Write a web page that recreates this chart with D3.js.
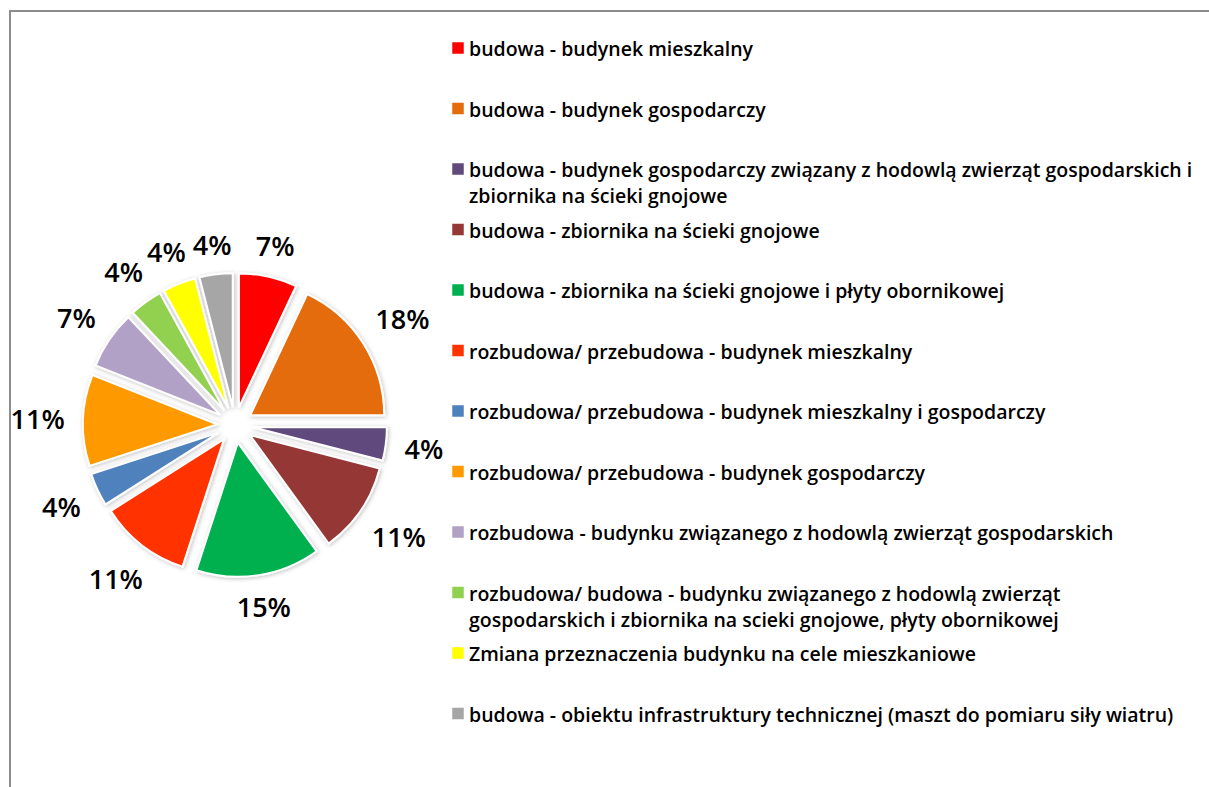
<!DOCTYPE html>
<html>
<head>
<meta charset="utf-8">
<script src="https://cdn.jsdelivr.net/npm/d3@7"></script>
<style>
  body { margin: 0; background: #fff; }
  svg { display: block; }
  .pct { font-family: "Open Sans", sans-serif; font-weight: 600; font-size: 27px; fill: #000; }
  .leg { font-family: "Open Sans", sans-serif; font-weight: 600; font-size: 19.5px; fill: #000; }
</style>
</head>
<body>
<script>
var categories = [
  ["budowa - budynek mieszkalny"],
  ["budowa - budynek gospodarczy"],
  ["budowa - budynek gospodarczy związany z hodowlą zwierząt gospodarskich i", "zbiornika na ścieki gnojowe"],
  ["budowa - zbiornika na ścieki gnojowe"],
  ["budowa - zbiornika na ścieki gnojowe i płyty obornikowej"],
  ["rozbudowa/ przebudowa - budynek mieszkalny"],
  ["rozbudowa/ przebudowa - budynek mieszkalny i gospodarczy"],
  ["rozbudowa/ przebudowa - budynek gospodarczy"],
  ["rozbudowa - budynku związanego z hodowlą zwierząt gospodarskich"],
  ["rozbudowa/ budowa - budynku związanego z hodowlą zwierząt", "gospodarskich i zbiornika na scieki gnojowe, płyty obornikowej"],
  ["Zmiana przeznaczenia budynku na cele mieszkaniowe"],
  ["budowa - obiektu infrastruktury technicznej (maszt do pomiaru siły wiatru)"]
];
// percentage shares as printed on the slices
var percents = [7, 18, 4, 11, 15, 11, 4, 11, 7, 4, 4, 4];
var colors = ["#ff0000", "#e46c0a", "#604a7b", "#953735", "#00b050", "#ff3300",
              "#4f81bd", "#ff9900", "#b2a1c7", "#92d050", "#ffff00", "#a6a6a6"];

var width = 1209, height = 787;
var cx = 235, cy = 425, radius = 134, explode = 18, labelGap = 18;

var svg = d3.select("body").append("svg")
  .attr("width", width)
  .attr("height", height);

var defs = svg.append("defs");
var f = defs.append("filter").attr("id", "shadow")
  .attr("x", "-20%").attr("y", "-20%").attr("width", "140%").attr("height", "140%");
f.append("feDropShadow").attr("dx", 1).attr("dy", 1).attr("stdDeviation", 2)
  .attr("flood-color", "#000").attr("flood-opacity", 0.25);

// chart area border, cut at right / bottom like the screenshot
svg.append("rect")
  .attr("x", 10).attr("y", 11)
  .attr("width", width + 20).attr("height", height + 20)
  .attr("fill", "none")
  .attr("stroke", "#8c8c8c")
  .attr("stroke-width", 2);

var data = percents.map(function(p, i) { return { value: p, i: i }; });

var pie = d3.pie()
  .value(function(d) { return d.value; })
  .sort(null);

var arc = d3.arc()
  .innerRadius(0)
  .outerRadius(radius);

var g = svg.append("g")
  .attr("transform", "translate(" + cx + "," + cy + ")");

var arcs = pie(data);

function mid(d) { return (d.startAngle + d.endAngle) / 2; }

g.selectAll("path.slice")
  .data(arcs)
  .enter().append("path")
  .attr("class", "slice")
  .attr("d", arc)
  .attr("transform", function(d) {
    var a = mid(d);
    return "translate(" + (explode * Math.sin(a)) + "," + (-explode * Math.cos(a)) + ")";
  })
  .attr("fill", function(d) { return colors[d.data.i]; })
  .attr("stroke", "#fff")
  .attr("stroke-width", 2)
  .attr("filter", "url(#shadow)");

// outside-end labels: box edge sits a fixed gap beyond the slice
var labels = g.selectAll("text.pct")
  .data(arcs)
  .enter().append("text")
  .attr("class", "pct")
  .attr("text-anchor", "middle")
  .attr("dominant-baseline", "central")
  .text(function(d) { return d.data.value + "%"; });

labels.each(function(d) {
  var bb = this.getBBox();
  var a = mid(d);
  var s = Math.sin(a), c = Math.cos(a);
  var ext = Math.abs(s) * bb.width / 2 + Math.abs(c) * 10;
  var r = radius + explode + labelGap + ext;
  d3.select(this).attr("x", r * s).attr("y", -r * c);
});

// legend
var legX = 452, legY = 48, legStep = 60.5, lineH = 26;

var leg = svg.selectAll("g.legend")
  .data(categories)
  .enter().append("g")
  .attr("class", "legend")
  .attr("transform", function(d, i) { return "translate(" + legX + "," + (legY + i * legStep) + ")"; });

leg.append("rect")
  .attr("x", 0).attr("y", -6)
  .attr("width", 12).attr("height", 12)
  .attr("fill", function(d, i) { return colors[i]; })
  .attr("stroke", "#fff")
  .attr("stroke-width", 0.5);

leg.append("text")
  .attr("class", "leg")
  .attr("x", 17)
  .attr("y", 0)
  .attr("dominant-baseline", "central")
  .selectAll("tspan")
  .data(function(d) { return d; })
  .enter().append("tspan")
  .attr("x", 17)
  .attr("dy", function(d, j) { return j === 0 ? 0 : lineH; })
  .text(function(d) { return d; });
</script>
</body>
</html>
